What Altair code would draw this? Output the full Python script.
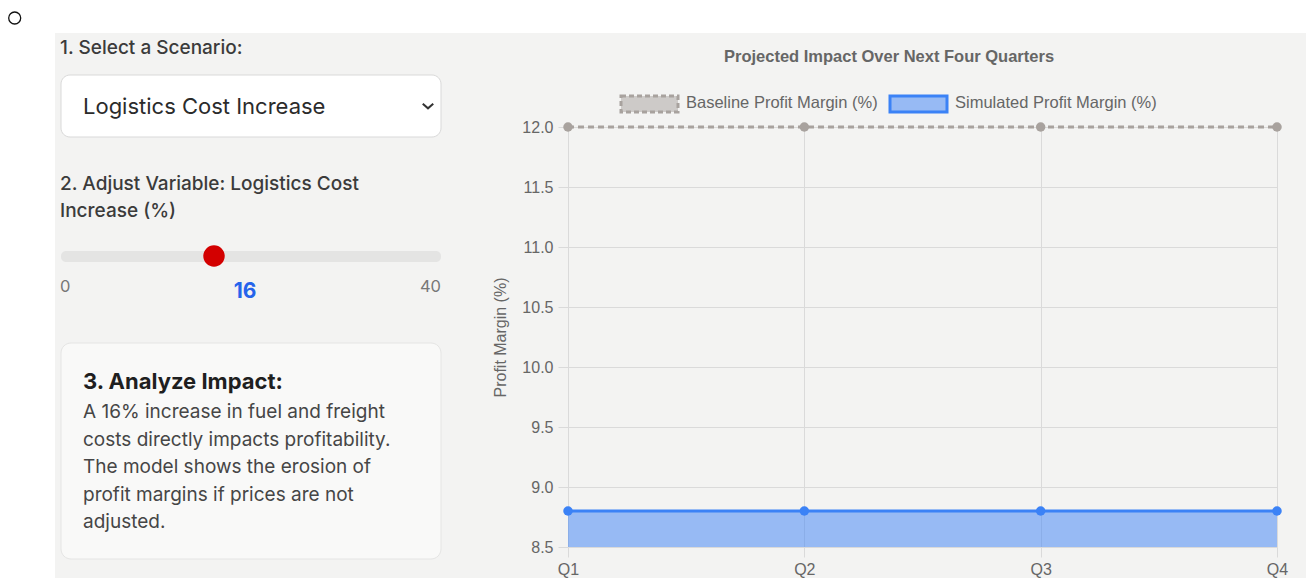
import altair as alt
import pandas as pd

# ---------------- data ----------------
quarters = ["Q1", "Q2", "Q3", "Q4"]
baseline = [12.0, 12.0, 12.0, 12.0]
simulated = [8.8, 8.8, 8.8, 8.8]
y_ticks = [8.5, 9.0, 9.5, 10.0, 10.5, 11.0, 11.5, 12.0]
series_names = ["Baseline Profit Margin (%)", "Simulated Profit Margin (%)"]
chart_title = "Projected Impact Over Next Four Quarters"
y_title = "Profit Margin (%)"

scenario_label = "1. Select a Scenario:"
scenario_value = "Logistics Cost Increase"
variable_label = ["2. Adjust Variable: Logistics Cost", "Increase (%)"]
slider_min, slider_max, slider_value = 0, 40, 16
impact_title = "3. Analyze Impact:"
impact_lines = [
    "A 16% increase in fuel and freight",
    "costs directly impacts profitability.",
    "The model shows the erosion of",
    "profit margins if prices are not",
    "adjusted.",
]

df = pd.DataFrame({"quarter": quarters, "baseline": baseline, "simulated": simulated})
one = pd.DataFrame({"k": [0]})

# plot origin on the page
OX, OY = 568, 127
W, H = 709, 420

PANEL = "#f3f3f2"
GRID = "#dadada"
AX_FONT = "Liberation Sans"
UI_FONT = "Inter"

x_enc = alt.X(
    "quarter:N",
    sort=quarters,
    scale=alt.Scale(type="point", padding=0),
    axis=alt.Axis(
        title=None, labelAngle=0, grid=True, gridColor=GRID, domain=False,
        tickColor=GRID, tickSize=10, labelPadding=4, labelFont=AX_FONT,
        labelFontSize=16, labelColor="#666",
    ),
)


def y_enc(field):
    return alt.Y(
        f"{field}:Q",
        scale=alt.Scale(domain=[8.5, 12.0], zero=False, nice=False),
        axis=alt.Axis(
            title=y_title, values=y_ticks, format=".1f", grid=True, gridColor=GRID,
            domain=False, tickColor=GRID, tickSize=10, labelPadding=5,
            labelFont=AX_FONT, labelFontSize=16, labelColor="#666",
            titleFont=AX_FONT, titleFontSize=16, titleFontWeight="normal",
            titleColor="#666", titleX=-68, titleY=H / 2, titleAngle=270,
            titleAlign="center", titleBaseline="middle",
        ),
    )


def txt(s, X, Y, size, color, weight="normal", font=UI_FONT, align="left", angle=0):
    return alt.Chart(one).mark_text(
        text=s, font=font, fontSize=size, fontWeight=weight, color=color,
        align=align, baseline="middle", angle=angle,
    ).encode(x=alt.value(X - OX), y=alt.value(Y - OY))


def box(X1, Y1, X2, Y2, fill, stroke=None, sw=0, r=0, dash=None):
    kw = dict(fill=fill, cornerRadius=r)
    if stroke:
        kw.update(stroke=stroke, strokeWidth=sw)
    if dash:
        kw.update(strokeDash=dash)
    return alt.Chart(one).mark_rect(**kw).encode(
        x=alt.value(X1 - OX), x2=alt.value(X2 - OX),
        y=alt.value(Y1 - OY), y2=alt.value(Y2 - OY),
    )


def sym(X, Y, size, shape, fill=None, stroke=None, sw=1):
    kw = dict(shape=shape, size=size, opacity=1)
    if fill:
        kw.update(filled=True, fill=fill, color=fill)
    else:
        kw.update(filled=False, stroke=stroke, strokeWidth=sw, color=stroke)
    return alt.Chart(one).mark_point(**kw).encode(
        x=alt.value(X - OX), y=alt.value(Y - OY)
    )


# ---------------- page decorations ----------------
layers = [
    box(0, 0, 1306, 33, "white"),
    box(0, 0, 55, 578, "white"),
    sym(14.7, 18, 144, "circle", stroke="#111", sw=1.3),
    # left panel
    txt(scenario_label, 60, 48, 19, "#3b3b3b", weight=500),
    box(61, 75, 441, 137, "white", stroke="#d9d9d9", sw=1, r=9),
    txt(scenario_value, 83, 107, 22, "#2b2b2b"),
    sym(428, 106, 110, "M-1,-0.45L0,0.45L1,-0.45", stroke="#333", sw=2),
    txt(variable_label[0], 60, 184, 19, "#3b3b3b", weight=500),
    txt(variable_label[1], 60, 211, 19, "#3b3b3b", weight=500),
    box(61, 251, 441, 262, "#e4e4e3", r=5),
    sym(214, 256, 460, "circle", fill="#d30000"),
    txt(str(slider_min), 60, 287, 16.5, "#777"),
    txt(str(slider_max), 441, 287, 16.5, "#777", align="right"),
    txt(str(slider_value), 245, 292, 21, "#2563eb", weight="bold", align="center"),
    box(61, 343, 441, 559, "#f9f9f8", stroke="#e5e5e4", sw=1, r=10),
    txt(impact_title, 83, 382, 22, "#1f1f1f", weight="bold"),
]
for i, line in enumerate(impact_lines):
    layers.append(txt(line, 83, 412 + i * 27.5, 19, "#464646"))

# chart title & legend
layers += [
    txt(chart_title, 889, 57, 16.5, "#666", weight="bold", font=AX_FONT, align="center"),
    box(621, 96, 678, 112, "#cdcac8", stroke="#a8a29e", sw=3, dash=[5, 3]),
    txt(series_names[0], 686, 103, 16.5, "#666", font=AX_FONT),
    box(890, 96, 947, 112, "#97baf4", stroke="#3b82f6", sw=3),
    txt(series_names[1], 955, 103, 16.5, "#666", font=AX_FONT),
]

# ---------------- data marks ----------------
base = alt.Chart(df)
area = base.mark_area(color="#3b82f6", opacity=0.5).encode(
    x=x_enc, y=y_enc("simulated"), y2=alt.datum(8.5)
)
sim_line = base.mark_line(color="#3b82f6", strokeWidth=3).encode(x=x_enc, y=y_enc("simulated"))
sim_pts = base.mark_circle(color="#3b82f6", size=90, opacity=1).encode(x=x_enc, y=y_enc("simulated"))
base_line = base.mark_line(color="#a8a29e", strokeWidth=3, strokeDash=[6, 4]).encode(
    x=x_enc, y=y_enc("baseline")
)
base_pts = base.mark_circle(color="#a8a29e", size=90, opacity=1).encode(x=x_enc, y=y_enc("baseline"))

layers = [area] + layers + [base_line, base_pts, sim_line, sim_pts]

chart = (
    alt.layer(*layers)
    .properties(
        width=W,
        height=H,
        padding={"left": OX, "top": OY, "right": 1306 - OX - W, "bottom": 578 - OY - H},
        autosize=alt.AutoSizeParams(type="none"),
        background=PANEL,
    )
    .configure_view(stroke=None)
)

chart.save("out.html", embed_options={"renderer": "svg", "actions": False})
